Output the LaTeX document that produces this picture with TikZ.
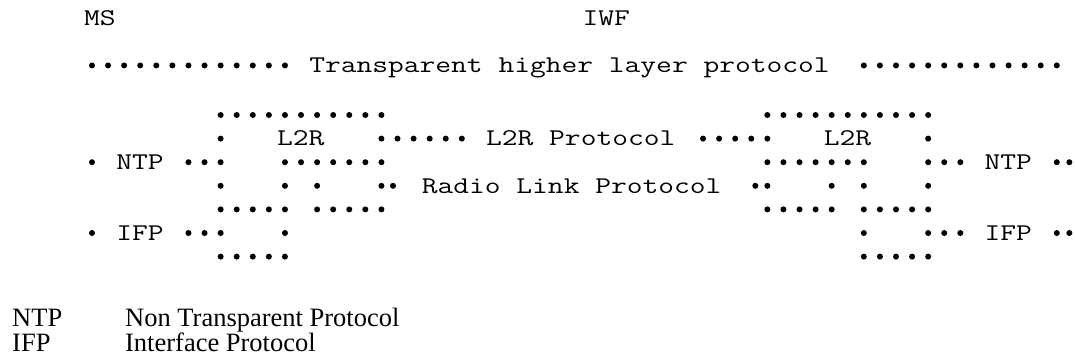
\documentclass[tikz,border=0pt]{standalone}
\usepackage{fontspec}
\newfontfamily\legendfont{Liberation Serif}
\newcommand{\wide}[1]{\scalebox{1.276}[1]{#1}}
\begin{document}
\begin{tikzpicture}[x=16.08pt,y=-23.6pt,
  mono/.style={font=\fontsize{24}{24}\selectfont\ttfamily,inner sep=0pt,anchor=base west},
  legend/.style={font=\fontsize{26.5}{26.5}\selectfont\legendfont,inner sep=0pt,anchor=base west}]
\useasboundingbox (-5.721,-0.873) rectangle (61.132,14.508);
% heading
\node[mono] (MS) at (-0.5,0.21) {\wide{MS}};
\node[mono] (IWF) at (30.5,0.21) {\wide{IWF}};
\foreach \c in {0,...,12} \fill (\c,1.9) circle (3pt);
\node[mono] (thl) at (13.5,2.21) {\wide{Transparent higher layer protocol}};
\foreach \c in {48,...,60} \fill (\c,1.9) circle (3pt);
% MS side
\foreach \c in {8,...,18} \fill (\c,4) circle (3pt);
\fill (8,5) circle (3pt);
\node[mono] (L2Rms) at (11.5,5.31) {\wide{L2R}};
\foreach \c in {18,...,23} \fill (\c,5) circle (3pt);
\fill (0,6) circle (3pt);
\node[mono] (NTPms) at (1.5,6.31) {\wide{NTP}};
\foreach \c in {6,7,8,12,13,...,18} \fill (\c,6) circle (3pt);
\foreach \c in {8,12,14,18,18.72} \fill (\c,7) circle (3pt);
\foreach \c in {8,...,12,14,15,...,18} \fill (\c,8) circle (3pt);
\fill (0,9) circle (3pt);
\node[mono] (IFPms) at (1.5,9.31) {\wide{IFP}};
\foreach \c in {6,7,8,12} \fill (\c,9) circle (3pt);
\foreach \c in {8,...,12} \fill (\c,10) circle (3pt);
% between
\node[mono] (l2rp) at (24.5,5.31) {\wide{L2R Protocol}};
\node[mono] (rlp) at (20.5,7.31) {\wide{Radio Link Protocol}};
% IWF side
\foreach \c in {42,...,52} \fill (\c,4) circle (3pt);
\foreach \c in {38,...,42,52} \fill (\c,5) circle (3pt);
\node[mono] (L2Riwf) at (45.5,5.31) {\wide{L2R}};
\foreach \c in {42,...,48,52,53,54,60,60.78} \fill (\c,6) circle (3pt);
\node[mono] (NTPiwf) at (55.5,6.31) {\wide{NTP}};
\foreach \c in {41.25,42,46,48,52} \fill (\c,7) circle (3pt);
\foreach \c in {42,...,46,48,49,...,52} \fill (\c,8) circle (3pt);
\foreach \c in {48,52,53,54,60,60.78} \fill (\c,9) circle (3pt);
\node[mono] (IFPiwf) at (55.5,9.31) {\wide{IFP}};
\foreach \c in {48,...,52} \fill (\c,10) circle (3pt);
% legend
\node[legend] (ntp) at (-4.975,12.97) {NTP};
\node[legend] (ntpx) at (2.05,12.97) {Non Transparent Protocol};
\node[legend] (ifp) at (-4.975,14.03) {IFP};
\node[legend] (ifpx) at (2.05,14.03) {Interface Protocol};
\end{tikzpicture}
\end{document}
